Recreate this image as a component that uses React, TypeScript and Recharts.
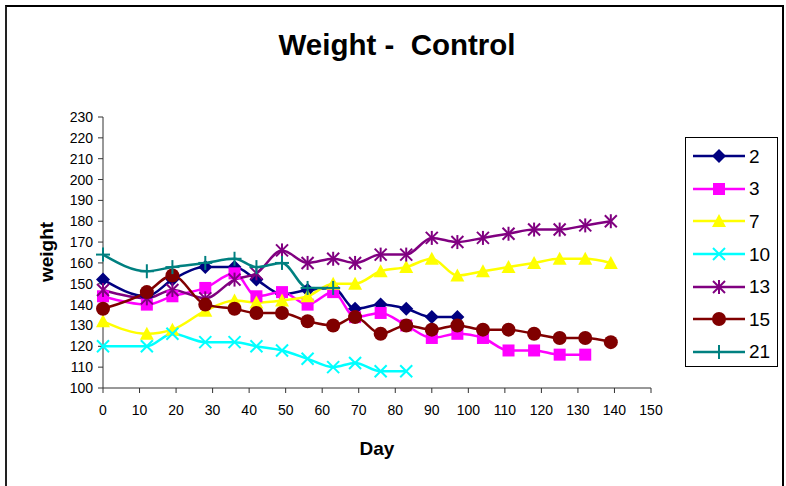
import React from "react";
import { LineChart, Line, XAxis, YAxis } from "recharts";

// ─── Data ────────────────────────────────────────────────────────────────────
const DAYS = [0, 12, 19, 28, 36, 42, 49, 56, 63, 69, 76, 83, 90, 97, 104, 111, 118, 125, 132, 139];

const S2 = [152, 144, 152, 158, 158, 152, 145, 147, 148, 138, 140, 138, 134, 134];
const S3 = [144, 140, 144, 148, 155, 144, 146, 140, 146, 134, 136, 130, 124, 126, 124, 118, 118, 116, 116];
const S7 = [132, 126, 128, 137, 142, 141, 142, 144, 150, 150, 156, 158, 162, 154, 156, 158, 160, 162, 162, 160];
const S10 = [120, 120, 126, 122, 122, 120, 118, 114, 110, 112, 108, 108];
const S13 = [147, 143, 147, 143, 152, 155, 166, 160, 162, 160, 164, 164, 172, 170, 172, 174, 176, 176, 178, 180];
const S15 = [138, 146, 154, 140, 138, 136, 136, 132, 130, 134, 126, 130, 128, 130, 128, 128, 126, 124, 124, 122];
const S21 = [164, 156, 158, 160, 162, 158, 160, 148, 148];

const X_TICKS = [0, 10, 20, 30, 40, 50, 60, 70, 80, 90, 100, 110, 120, 130, 140, 150];
const Y_TICKS = [100, 110, 120, 130, 140, 150, 160, 170, 180, 190, 200, 210, 220, 230];

type Shape = "diamond" | "square" | "triangle" | "x" | "star" | "circle" | "plus";

const SERIES: { key: string; name: string; color: string; shape: Shape; values: number[] }[] = [
  { key: "s2", name: "2", color: "#000080", shape: "diamond", values: S2 },
  { key: "s3", name: "3", color: "#FF00FF", shape: "square", values: S3 },
  { key: "s7", name: "7", color: "#FFFF00", shape: "triangle", values: S7 },
  { key: "s10", name: "10", color: "#00FFFF", shape: "x", values: S10 },
  { key: "s13", name: "13", color: "#800080", shape: "star", values: S13 },
  { key: "s15", name: "15", color: "#800000", shape: "circle", values: S15 },
  { key: "s21", name: "21", color: "#008080", shape: "plus", values: S21 },
];

const rows = DAYS.map((day, i) => {
  const row: Record<string, number | undefined> = { day };
  SERIES.forEach((s) => {
    row[s.key] = s.values[i];
  });
  return row;
});

const FONT = "Arial, 'Liberation Sans', sans-serif";

// ─── Markers ─────────────────────────────────────────────────────────────────
function Marker({ cx, cy, shape, color }: { cx: number; cy: number; shape: Shape; color: string }) {
  switch (shape) {
    case "diamond":
      return <polygon points={`${cx},${cy - 7} ${cx + 7},${cy} ${cx},${cy + 7} ${cx - 7},${cy}`} fill={color} />;
    case "square":
      return <rect x={cx - 6} y={cy - 6} width={12} height={12} fill={color} />;
    case "triangle":
      return <polygon points={`${cx},${cy - 7} ${cx + 7},${cy + 6} ${cx - 7},${cy + 6}`} fill={color} />;
    case "x":
      return (
        <g stroke={color} strokeWidth={2}>
          <line x1={cx - 6} y1={cy - 6} x2={cx + 6} y2={cy + 6} />
          <line x1={cx - 6} y1={cy + 6} x2={cx + 6} y2={cy - 6} />
        </g>
      );
    case "star":
      return (
        <g stroke={color} strokeWidth={2}>
          <line x1={cx - 6} y1={cy - 6} x2={cx + 6} y2={cy + 6} />
          <line x1={cx - 6} y1={cy + 6} x2={cx + 6} y2={cy - 6} />
          <line x1={cx} y1={cy - 7} x2={cx} y2={cy + 7} />
        </g>
      );
    case "circle":
      return <circle cx={cx} cy={cy} r={7} fill={color} />;
    case "plus":
      return (
        <g stroke={color} strokeWidth={2}>
          <line x1={cx - 7} y1={cy} x2={cx + 7} y2={cy} />
          <line x1={cx} y1={cy - 7} x2={cx} y2={cy + 7} />
        </g>
      );
  }
}

function makeDot(shape: Shape, color: string) {
  return (props: any) => {
    const { cx, cy, index, value } = props;
    if (cx == null || cy == null || value == null) return <g key={`e-${index}`} />;
    return (
      <g key={`d-${index}`}>
        <Marker cx={cx} cy={cy} shape={shape} color={color} />
      </g>
    );
  };
}

function SeriesLegend() {
  return (
    <div
      style={{
        position: "absolute",
        left: 685,
        top: 137,
        width: 93,
        height: 230,
        border: "1px solid #000",
        boxSizing: "border-box",
        background: "#fff",
        paddingTop: 2,
      }}
    >
      {SERIES.map((s) => (
        <div key={s.key} style={{ display: "flex", alignItems: "center", height: 32.6 }}>
          <svg width={58} height={20} style={{ marginLeft: 5, flexShrink: 0 }}>
            <line x1={2} y1={10} x2={54} y2={10} stroke={s.color} strokeWidth={2.5} />
            <Marker cx={28} cy={10} shape={s.shape} color={s.color} />
          </svg>
          <span style={{ fontFamily: FONT, fontSize: 19, color: "#000", lineHeight: 1 }}>{s.name}</span>
        </div>
      ))}
    </div>
  );
}

// ─── Chart ───────────────────────────────────────────────────────────────────
export default function App() {
  return (
    <div style={{ position: "absolute", left: 0, top: 0, width: 786, height: 486, background: "#fff", overflow: "hidden" }}>
      {/* frame */}
      <div
        style={{
          position: "absolute",
          left: 5,
          top: 5,
          width: 779,
          height: 490,
          borderTop: "2px solid #000",
          borderLeft: "2px solid #222",
          borderRight: "2px solid #000",
          boxSizing: "border-box",
        }}
      />

      <div
        style={{
          position: "absolute",
          left: 0,
          width: 794,
          top: 28,
          textAlign: "center",
          fontFamily: FONT,
          fontWeight: "bold",
          fontSize: 29.5,
          whiteSpace: "pre",
          lineHeight: "34px",
        }}
      >
        Weight -  Control
      </div>

      <div
        style={{
          position: "absolute",
          left: 47,
          top: 252,
          transform: "translate(-50%, -50%) rotate(-90deg)",
          fontFamily: FONT,
          fontWeight: "bold",
          fontSize: 19,
        }}
      >
        weight
      </div>

      <div
        style={{
          position: "absolute",
          left: 377,
          top: 449,
          transform: "translate(-50%, -50%)",
          fontFamily: FONT,
          fontWeight: "bold",
          fontSize: 19,
        }}
      >
        Day
      </div>

      <div style={{ position: "absolute", left: 0, top: 0 }}>
        <LineChart width={786} height={486} data={rows} margin={{ top: 117, right: 135, bottom: 68, left: 63 }}>
          <XAxis
            dataKey="day"
            type="number"
            domain={[0, 150]}
            ticks={X_TICKS}
            interval={0}
            height={30}
            tickSize={5}
            tickMargin={12}
            stroke="#333"
            tick={{ fill: "#000", fontSize: 14, fontFamily: FONT }}
          />
          <YAxis
            type="number"
            domain={[100, 230]}
            ticks={Y_TICKS}
            interval={0}
            width={40}
            tickSize={5}
            tickMargin={5}
            stroke="#333"
            tick={{ fill: "#000", fontSize: 14, fontFamily: FONT }}
          />
          {SERIES.map((s) => (
            <Line
              key={s.key}
              type="monotone"
              dataKey={s.key}
              name={s.name}
              stroke={s.color}
              strokeWidth={2.5}
              dot={makeDot(s.shape, s.color)}
              activeDot={false}
              connectNulls={false}
              isAnimationActive={false}
            />
          ))}
        </LineChart>
      </div>

      <SeriesLegend />
    </div>
  );
}
